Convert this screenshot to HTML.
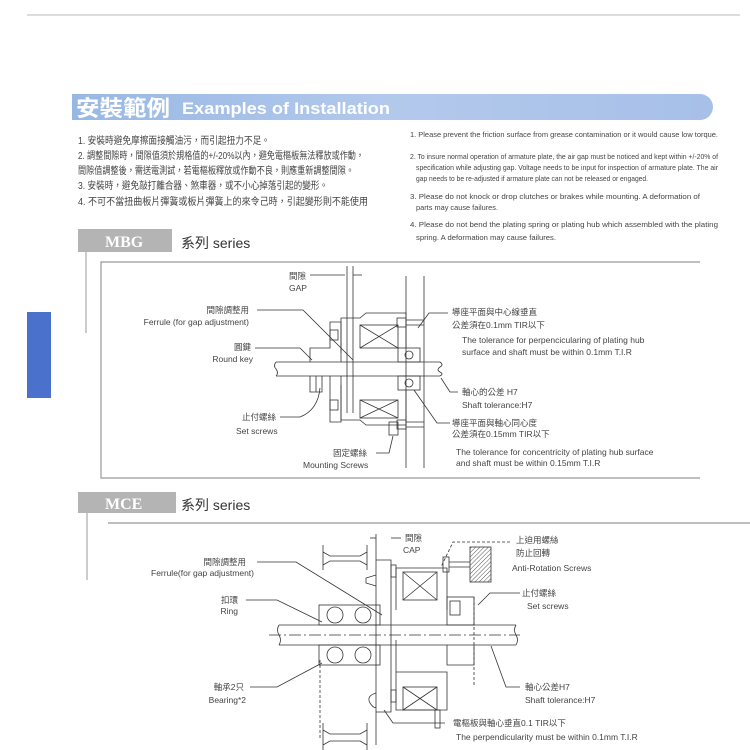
<!DOCTYPE html>
<html><head><meta charset="utf-8"><style>
html,body{margin:0;padding:0;background:#fff;width:750px;height:750px;overflow:hidden}
svg{display:block}
text{font-family:"Liberation Sans","Noto Sans CJK TC",sans-serif;fill:#444}
.cj{font-size:10px}
.en{font-size:7.5px;fill:#555}
.lb{font-size:8.5px}
</style></head><body>
<svg width="750" height="750" viewBox="0 0 750 750" xmlns="http://www.w3.org/2000/svg">
<defs>
<linearGradient id="hg" x1="0" x2="1"><stop offset="0" stop-color="#98b8e4"/><stop offset="0.5" stop-color="#b3c9ec"/><stop offset="1" stop-color="#a7c0e8"/></linearGradient>
<pattern id="hatch" width="3" height="3" patternUnits="userSpaceOnUse" patternTransform="rotate(45)"><line x1="0" y1="0" x2="0" y2="3" stroke="#555" stroke-width="1"/></pattern>
</defs>
<line x1="27" y1="15" x2="740" y2="15" stroke="#bbb" stroke-width="1"/>
<rect x="27" y="312" width="24" height="86" fill="#4a72cc"/>
<!-- header -->
<path d="M72 94 H700 A13 13 0 0 1 700 120 H72 Z" fill="url(#hg)"/>
<text x="76" y="116" style="font-size:22px;font-weight:bold;fill:#fff" textLength="94" lengthAdjust="spacingAndGlyphs">安裝範例</text>
<text x="182" y="114" style="font-size:17px;font-weight:bold;fill:#fff" textLength="208" lengthAdjust="spacingAndGlyphs">Examples of Installation</text>
<!-- chinese notes -->
<g class="cj">
<text x="78" y="144" textLength="192" lengthAdjust="spacingAndGlyphs">1. 安裝時避免摩擦面接觸油污，而引起扭力不足。</text>
<text x="78" y="159" textLength="286" lengthAdjust="spacingAndGlyphs">2. 調整間隙時，間隙值須於規格值的+/-20%以內，避免電樞板無法釋放或作動，</text>
<text x="78" y="174" textLength="276" lengthAdjust="spacingAndGlyphs">間隙值調整後，需送電測試，若電樞板釋放或作動不良，則應重新調整間隙。</text>
<text x="78" y="189" textLength="250" lengthAdjust="spacingAndGlyphs">3. 安裝時，避免敲打離合器、煞車器，或不小心掉落引起的變形。</text>
<text x="78" y="205" textLength="290" lengthAdjust="spacingAndGlyphs">4. 不可不當扭曲板片彈簧或板片彈簧上的來令己時，引起變形則不能使用</text>
</g>
<g class="en">
<text x="410" y="137" textLength="308" lengthAdjust="spacingAndGlyphs">1. Please prevent the friction surface from grease contamination or it would cause low torque.</text>
<text x="410" y="159" textLength="308" lengthAdjust="spacingAndGlyphs">2. To insure normal operation of armature plate, the air gap must be noticed and kept within +/-20% of</text>
<text x="416" y="170" textLength="302" lengthAdjust="spacingAndGlyphs">specification while adjusting gap. Voltage needs to be input for inspection of armature plate. The air</text>
<text x="416" y="181" textLength="232" lengthAdjust="spacingAndGlyphs">gap needs to be re-adjusted if armature plate can not be released or engaged.</text>
<text x="410" y="199" textLength="290" lengthAdjust="spacingAndGlyphs">3. Please do not knock or drop clutches or brakes while mounting. A deformation of</text>
<text x="416" y="210" textLength="82" lengthAdjust="spacingAndGlyphs">parts may cause failures.</text>
<text x="410" y="227" textLength="308" lengthAdjust="spacingAndGlyphs">4. Please do not bend the plating spring or plating hub which assembled with the plating</text>
<text x="416" y="240" textLength="140" lengthAdjust="spacingAndGlyphs">spring. A deformation may cause failures.</text>
</g>
<!-- MBG -->
<rect x="78" y="229" width="94" height="23" fill="#b4b4b4"/>
<text x="105" y="247" style="font-size:16px;font-family:'Liberation Serif',serif;font-weight:bold;fill:#fff">MBG</text>
<text x="181" y="248" style="font-size:14px;fill:#333">系列 series</text>
<line x1="86" y1="252" x2="86" y2="333" stroke="#999"/>
<polyline points="700,262 101,262 101,478 700,478" fill="none" stroke="#999" stroke-width="1.2"/>
<g stroke="#333" stroke-width="0.8" fill="none">
<line x1="276" y1="362" x2="440" y2="362"/><line x1="276" y1="376" x2="440" y2="376"/>
<path d="M440 362 q4 3 0 5 q-4 3 0 5 q4 2 0 4"/><path d="M276 362 q-3 4 0 7 q3 4 0 7"/>
<line x1="406" y1="276" x2="406" y2="468"/><line x1="424" y1="276" x2="424" y2="468"/>
<rect x="397" y="318" width="9" height="9"/><line x1="406" y1="320" x2="424" y2="320"/><line x1="406" y1="325" x2="424" y2="325"/>
<rect x="397" y="420" width="9" height="9"/><line x1="406" y1="422" x2="424" y2="422"/><line x1="406" y1="427" x2="424" y2="427"/>
<path d="M341 353 V318 H360 L366 313 H406 V348"/>
<rect x="360" y="325" width="38" height="23"/><line x1="360" y1="325" x2="398" y2="348"/><line x1="398" y1="325" x2="360" y2="348"/>
<rect x="398" y="348" width="22" height="14"/><circle cx="409" cy="355" r="4"/>
<rect x="398" y="376" width="22" height="14"/><circle cx="409" cy="383" r="4"/>
<path d="M341 385 V420 H360 L366 425 H406 V390"/>
<rect x="360" y="400" width="38" height="18"/><line x1="360" y1="400" x2="398" y2="418"/><line x1="398" y1="400" x2="360" y2="418"/>
<rect x="389" y="422" width="9" height="13"/>
<path d="M310 362 V348 H330 V322 H341 V362"/>
<rect x="330" y="330" width="8" height="10"/>
<path d="M310 376 V392 H322 V376"/><line x1="316" y1="376" x2="316" y2="392"/>
<path d="M330 376 V422 H341 V376"/><rect x="330" y="400" width="8" height="10"/>
<line x1="347" y1="266" x2="347" y2="413"/><line x1="353" y1="266" x2="353" y2="413"/>
<line x1="310" y1="275" x2="345" y2="275"/><line x1="353" y1="275" x2="362" y2="275"/>
<polyline points="257,310 303,310 353,360"/>
<polyline points="255,348 300,348 312,360"/>
<path d="M280 417 H300 Q318 410 320 388"/>
<polyline points="376,453 389,453 393,436"/>
<polyline points="448,313 429,313 418,328"/>
<polyline points="458,392 450,392 441,378"/>
<polyline points="450,423 437,423 414,390"/>
</g>
<g class="lb">
<text x="289" y="279">間隙</text><text x="289" y="291">GAP</text>
<text x="249" y="313" text-anchor="end">間隙調整用</text>
<text x="249" y="325" text-anchor="end">Ferrule (for gap adjustment)</text>
<text x="251" y="350" text-anchor="end">圓鍵</text><text x="253" y="362" text-anchor="end">Round key</text>
<text x="242" y="420">止付螺絲</text><text x="236" y="434">Set screws</text>
<text x="333" y="456">固定螺絲</text><text x="303" y="468">Mounting Screws</text>
<text x="452" y="315">導座平面與中心線垂直</text><text x="452" y="328">公差須在0.1mm TIR以下</text>
<text x="462" y="343">The tolerance for perpencicularing of plating hub</text>
<text x="462" y="355">surface and shaft must be within 0.1mm T.I.R</text>
<text x="462" y="395">軸心的公差 H7</text><text x="462" y="408">Shaft tolerance:H7</text>
<text x="452" y="426">導座平面與軸心同心度</text><text x="452" y="437">公差須在0.15mm TIR以下</text>
<text x="456" y="455">The tolerance for concentricity of plating hub surface</text>
<text x="456" y="466">and shaft must be within 0.15mm T.I.R</text>
</g>
<!-- MCE -->
<rect x="78" y="492" width="98" height="21" fill="#b4b4b4"/>
<text x="105" y="509" style="font-size:16px;font-family:'Liberation Serif',serif;font-weight:bold;fill:#fff">MCE</text>
<text x="181" y="510" style="font-size:14px;fill:#333">系列 series</text>
<line x1="87" y1="513" x2="87" y2="580" stroke="#999"/>
<line x1="108" y1="523" x2="750" y2="523" stroke="#999" stroke-width="1.2"/>
<g stroke="#333" stroke-width="0.8" fill="none">
<line x1="269" y1="635" x2="520" y2="635" stroke-dasharray="12,3,2,3"/>
<line x1="279" y1="625" x2="516" y2="625"/><line x1="279" y1="645" x2="516" y2="645"/>
<path d="M279 625 q-3 5 0 10 q3 5 0 10"/><path d="M516 625 q-3 5 0 10 q3 5 0 10"/>
<path d="M323 545 V570 M367 545 V570 M323 552 L330 556 H360 L367 552 M323 565 L330 561 H360 L367 565"/>
<path d="M323 723 V750 M367 723 V750 M323 730 L330 734 H360 L367 730 M323 745 L330 741 H360 L367 745"/>
<line x1="376" y1="534" x2="376" y2="745"/><line x1="320" y1="660" x2="320" y2="740" stroke-dasharray="3,2"/>
<path d="M376 560 H391 V712 H376"/>
<rect x="391" y="565" width="5" height="12"/><rect x="391" y="690" width="5" height="12"/>
<path d="M376 575 L366 578 L366 583 L376 586"/>
<path d="M376 693 q-10 3 -6 10 q4 6 6 4"/>
<rect x="319" y="605" width="61" height="20"/><circle cx="335" cy="615" r="8"/><circle cx="363" cy="615" r="8"/>
<rect x="319" y="645" width="61" height="20"/><circle cx="335" cy="655" r="8"/><circle cx="363" cy="655" r="8"/>
<path d="M396 610 V568 H447 V610"/>
<rect x="403" y="572" width="34" height="28"/><line x1="403" y1="572" x2="437" y2="600"/><line x1="437" y1="572" x2="403" y2="600"/>
<path d="M396 640 V710 H447 V672 H396"/>
<rect x="403" y="687" width="34" height="23"/><line x1="403" y1="687" x2="437" y2="710"/><line x1="437" y1="687" x2="403" y2="710"/>
<rect x="435" y="710" width="5" height="18"/>
<rect x="443" y="557" width="6" height="15"/>
<rect x="447" y="597" width="27" height="28"/><rect x="450" y="601" width="10" height="14"/>
<path d="M447 645 V665 H474 V645"/>
<line x1="474" y1="597" x2="474" y2="685" stroke-dasharray="3,2"/>
<line x1="449" y1="562" x2="470" y2="562"/><line x1="449" y1="567" x2="470" y2="567"/>
<rect x="470" y="547" width="21" height="35" fill="url(#hatch)"/>
<line x1="370" y1="538" x2="376" y2="538"/><line x1="391" y1="538" x2="401" y2="538"/>
<polyline points="257,562 296,562 382,615"/>
<polyline points="246,600 277,600 322,622"/>
<polyline points="250,687 277,687 322,663"/>
<polyline points="510,542 453,542 441,567" stroke-dasharray="3,2"/>
<polyline points="520,593 490,593 478,605"/>
<polyline points="520,687 506,687 491,646"/>
<polyline points="445,723 393,723 384,710"/>
</g>
<g class="lb">
<text x="405" y="541">間隙</text><text x="403" y="553">CAP</text>
<text x="246" y="565" text-anchor="end">間隙調整用</text>
<text x="254" y="576" text-anchor="end">Ferrule(for gap adjustment)</text>
<text x="238" y="603" text-anchor="end">扣環</text><text x="238" y="614" text-anchor="end">Ring</text>
<text x="244" y="690" text-anchor="end">軸承2只</text><text x="246" y="703" text-anchor="end">Bearing*2</text>
<text x="516" y="543">上迫用螺絲</text><text x="516" y="556">防止回轉</text><text x="512" y="571">Anti-Rotation Screws</text>
<text x="522" y="596">止付螺絲</text><text x="527" y="609">Set screws</text>
<text x="525" y="690">軸心公差H7</text><text x="525" y="703">Shaft tolerance:H7</text>
<text x="453" y="726">電樞板與軸心垂直0.1 TIR以下</text>
<text x="456" y="740">The perpendicularity must be within 0.1mm T.I.R</text>
</g>
</svg>
</body></html>
